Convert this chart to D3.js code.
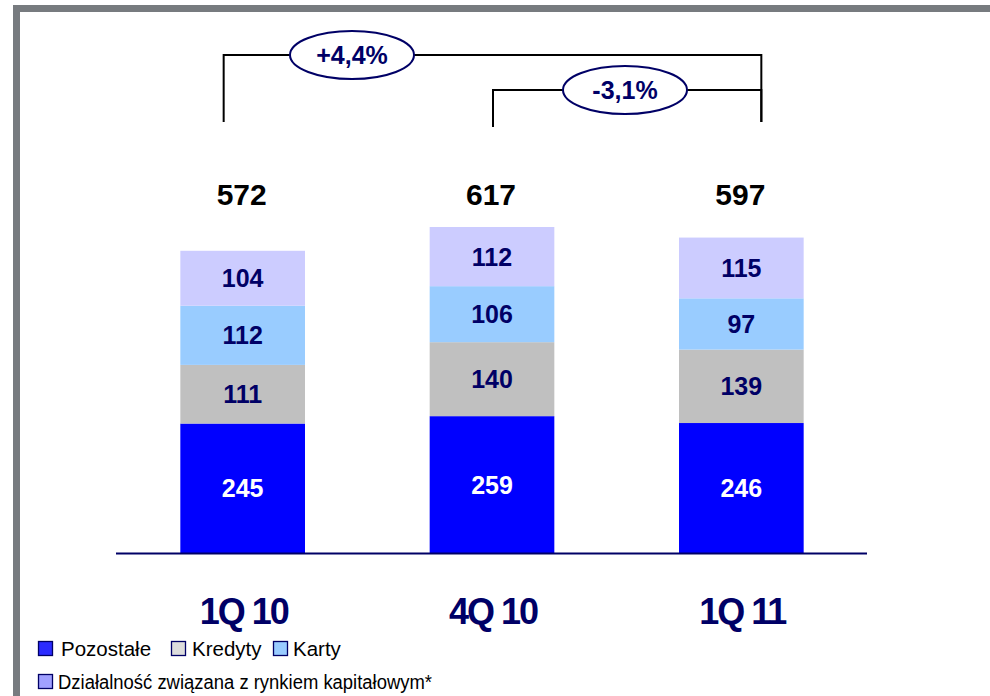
<!DOCTYPE html>
<html>
<head>
<meta charset="utf-8">
<script src="https://cdn.jsdelivr.net/npm/d3@7"></script>
<style>
  body { margin: 0; background: #fff; }
  text { font-family: "Liberation Sans", Arial, sans-serif; }
</style>
</head>
<body>
<div id="chartArea"></div>
<script>
// data

const categories = ["1Q 10", "4Q 10", "1Q 11"];
const seriesNames = ["Pozostałe", "Kredyty", "Karty", "Działalność związana z rynkiem kapitałowym*"];
const pozostale = [245, 259, 246];
const kredyty = [111, 140, 139];
const karty = [112, 106, 97];
const dzialalnosc = [104, 112, 115];
const totals = [572, 617, 597];
const changes = [
  { from: "1Q 10", to: "1Q 11", label: "+4,4%" },
  { from: "4Q 10", to: "1Q 11", label: "-3,1%" }
];

const chart = {};
chart.width = 990;
chart.height = 696;
chart.barColors = ["#0000ff", "#c0c0c0", "#99ccff", "#ccccff"];
chart.legendColors = ["#2b2bff", "#dcdcdc", "#99ccff", "#a0a0ff"];
chart.labelColors = ["#ffffff", "#000066", "#000066", "#000066"];
chart.navy = "#000066";

chart.svg = d3
  .select("#chartArea")
  .append("svg")
  .attr("width", chart.width)
  .attr("height", chart.height);

// frame
chart.svg.append("rect").attr("x", 13).attr("y", 5).attr("width", 990).attr("height", 7).attr("fill", "#777b7f");
chart.svg.append("rect").attr("x", 13).attr("y", 5).attr("width", 7).attr("height", 700).attr("fill", "#777b7f");

var x = d3.scaleBand(categories, [118, 866]).paddingInner(0.5).paddingOuter(0.25);
var y = d3.scaleLinear([0, 617], [553, 227]);

var rows = categories.map((c, i) => ({
  cat: c,
  values: [pozostale[i], kredyty[i], karty[i], dzialalnosc[i]]
}));
var stack = d3.stack().keys([0, 1, 2, 3]).value((d, k) => d.values[k])(rows);

// bars
var layers = chart.svg
  .append("g")
  .selectAll("g")
  .data(stack)
  .join("g")
  .attr("fill", (d) => chart.barColors[d.key]);

layers
  .selectAll("rect")
  .data((d) => d)
  .join("rect")
  .attr("x", (d) => x(d.data.cat))
  .attr("y", (d) => y(d[1]))
  .attr("width", x.bandwidth())
  .attr("height", (d) => y(d[0]) - y(d[1]));

layers
  .selectAll("text")
  .data((d) => d.map((p) => ({ p: p, key: d.key })))
  .join("text")
  .attr("x", (d) => x(d.p.data.cat) + x.bandwidth() / 2)
  .attr("y", (d) => (y(d.p[0]) + y(d.p[1])) / 2)
  .attr("dy", "0.36em")
  .attr("text-anchor", "middle")
  .attr("font-size", 25)
  .attr("font-weight", "bold")
  .attr("fill", (d) => chart.labelColors[d.key])
  .text((d) => d.p.data.values[d.key]);

// baseline
chart.svg.append("line")
  .attr("x1", 116).attr("x2", 867)
  .attr("y1", 553.5).attr("y2", 553.5)
  .attr("stroke", chart.navy).attr("stroke-width", 2);

// totals
chart.svg.append("g")
  .selectAll("text")
  .data(totals)
  .join("text")
  .attr("x", (d, i) => x(categories[i]) + x.bandwidth() / 2 - 1)
  .attr("y", 194)
  .attr("dy", "0.36em")
  .attr("text-anchor", "middle")
  .attr("font-size", 30)
  .attr("font-weight", "bold")
  .attr("fill", "#000")
  .text((d) => d);

// category labels
chart.svg.append("g")
  .selectAll("text")
  .data(categories)
  .join("text")
  .attr("x", (d) => x(d) + x.bandwidth() / 2 + 1)
  .attr("y", 611)
  .attr("dy", "0.36em")
  .attr("text-anchor", "middle")
  .attr("font-size", 36)
  .attr("font-weight", "bold")
  .attr("letter-spacing", -2)
  .attr("fill", chart.navy)
  .text((d) => d);

// change brackets
var bracketTop = [55, 90];
var bracketBottom = [122, 127];
var ellipseX = [352, 625];
changes.forEach((c, i) => {
  var x1 = x(c.from) + x.bandwidth() / 2 + (i == 1 ? 1 : -19);
  var x2 = x(c.to) + x.bandwidth() / 2 + 20;
  var g = chart.svg.append("g");
  g.append("path")
    .attr("d", `M${x1},${bracketBottom[i]}V${bracketTop[i]}H${x2}V122`)
    .attr("fill", "none")
    .attr("stroke", "#000")
    .attr("stroke-width", 2);
  g.append("ellipse")
    .attr("cx", ellipseX[i]).attr("cy", bracketTop[i])
    .attr("rx", 62).attr("ry", 24)
    .attr("fill", "#fff")
    .attr("stroke", chart.navy)
    .attr("stroke-width", 2);
  g.append("text")
    .attr("x", ellipseX[i]).attr("y", bracketTop[i])
    .attr("dy", "0.36em")
    .attr("text-anchor", "middle")
    .attr("font-size", 25)
    .attr("font-weight", "bold")
    .attr("fill", chart.navy)
    .text(c.label);
});

// legend
var legendPos = [
  { x: 38, y: 641, tx: 23 },
  { x: 171, y: 641, tx: 21 },
  { x: 273, y: 641, tx: 20 },
  { x: 38, y: 674, tx: 20 }
];
var legend = chart.svg.append("g")
  .selectAll("g")
  .data(seriesNames)
  .join("g")
  .attr("transform", (d, i) => `translate(${legendPos[i].x},${legendPos[i].y})`);

legend.append("rect")
  .attr("x", 0.5).attr("y", 0.5)
  .attr("width", 14).attr("height", 14)
  .attr("fill", (d, i) => chart.legendColors[i])
  .attr("stroke", chart.navy)
  .attr("stroke-width", 1.3);

legend.append("text")
  .attr("x", (d, i) => legendPos[i].tx)
  .attr("y", 8)
  .attr("dy", "0.36em")
  .attr("font-size", 20.5)
  .attr("fill", "#000")
  .text((d) => d)
  .filter((d, i) => i == 3)
  .attr("font-size", 20)
  .attr("textLength", 374)
  .attr("lengthAdjust", "spacingAndGlyphs");
</script>
</body>
</html>
